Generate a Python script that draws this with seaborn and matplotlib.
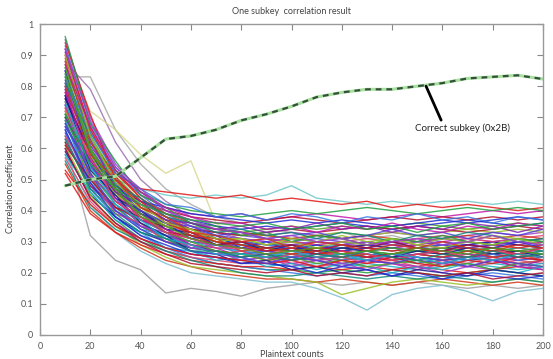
import matplotlib
matplotlib.use("Agg")
import matplotlib.pyplot as plt
import pandas as pd
import seaborn as sns

# plaintext counts on the x axis
x_counts = [10, 20, 30, 40, 50, 60, 70, 80, 90, 100,
            110, 120, 130, 140, 150, 160, 170, 180, 190, 200]

# correlation of the correct subkey (0x2B)
correct_key = [0.48, 0.50, 0.51, 0.57, 0.63, 0.64, 0.66, 0.69, 0.71, 0.735,
               0.765, 0.78, 0.79, 0.79, 0.80, 0.81, 0.825, 0.83, 0.835, 0.823]

# correlation of a sample of the wrong subkey guesses
wrong_keys = [
    [0.83, 0.83, 0.66, 0.55, 0.47, 0.42, 0.38, 0.36, 0.34, 0.33, 0.32, 0.33, 0.31, 0.32, 0.30, 0.31, 0.30, 0.29, 0.30, 0.29],
    [0.88, 0.79, 0.62, 0.50, 0.43, 0.38, 0.35, 0.33, 0.31, 0.30, 0.29, 0.30, 0.28, 0.29, 0.28, 0.27, 0.28, 0.27, 0.26, 0.27],
    [0.90, 0.72, 0.66, 0.58, 0.52, 0.56, 0.36, 0.30, 0.28, 0.27, 0.26, 0.27, 0.25, 0.26, 0.24, 0.25, 0.26, 0.24, 0.25, 0.24],
    [0.62, 0.32, 0.24, 0.21, 0.135, 0.15, 0.14, 0.125, 0.15, 0.16, 0.17, 0.16, 0.17, 0.16, 0.17, 0.16, 0.15, 0.16, 0.15, 0.16],
    [0.70, 0.55, 0.50, 0.47, 0.45, 0.44, 0.45, 0.44, 0.45, 0.48, 0.44, 0.43, 0.42, 0.43, 0.42, 0.43, 0.43, 0.42, 0.43, 0.42],
    [0.58, 0.42, 0.33, 0.27, 0.23, 0.20, 0.19, 0.18, 0.17, 0.17, 0.15, 0.12, 0.08, 0.13, 0.15, 0.16, 0.14, 0.11, 0.14, 0.15],
    [0.78, 0.62, 0.52, 0.47, 0.46, 0.45, 0.44, 0.45, 0.43, 0.44, 0.43, 0.42, 0.43, 0.41, 0.42, 0.41, 0.42, 0.41, 0.40, 0.41],
    [0.92, 0.66, 0.52, 0.45, 0.41, 0.39, 0.38, 0.39, 0.37, 0.38, 0.39, 0.38, 0.37, 0.38, 0.39, 0.38, 0.39, 0.40, 0.39, 0.40],
    [0.85, 0.60, 0.48, 0.41, 0.37, 0.34, 0.33, 0.32, 0.31, 0.30, 0.31, 0.30, 0.29, 0.30, 0.31, 0.30, 0.29, 0.30, 0.31, 0.30],
    [0.75, 0.55, 0.45, 0.38, 0.34, 0.31, 0.29, 0.28, 0.27, 0.26, 0.27, 0.26, 0.25, 0.26, 0.27, 0.26, 0.25, 0.26, 0.25, 0.26],
    [0.68, 0.50, 0.40, 0.34, 0.30, 0.27, 0.25, 0.24, 0.23, 0.22, 0.23, 0.22, 0.23, 0.22, 0.21, 0.22, 0.23, 0.22, 0.21, 0.22],
    [0.80, 0.58, 0.47, 0.40, 0.36, 0.33, 0.31, 0.30, 0.29, 0.29, 0.28, 0.29, 0.28, 0.27, 0.28, 0.29, 0.28, 0.27, 0.28, 0.27],
    [0.95, 0.70, 0.55, 0.46, 0.40, 0.36, 0.34, 0.33, 0.32, 0.33, 0.32, 0.31, 0.32, 0.33, 0.32, 0.31, 0.32, 0.33, 0.32, 0.33],
    [0.64, 0.46, 0.37, 0.31, 0.27, 0.25, 0.23, 0.22, 0.21, 0.21, 0.20, 0.21, 0.20, 0.21, 0.20, 0.19, 0.20, 0.21, 0.20, 0.19],
    [0.72, 0.52, 0.43, 0.37, 0.33, 0.31, 0.29, 0.28, 0.28, 0.27, 0.28, 0.28, 0.27, 0.28, 0.29, 0.28, 0.27, 0.28, 0.29, 0.28],
    [0.87, 0.64, 0.51, 0.43, 0.38, 0.35, 0.34, 0.33, 0.34, 0.35, 0.34, 0.35, 0.34, 0.35, 0.36, 0.35, 0.34, 0.35, 0.36, 0.35],
    [0.60, 0.44, 0.36, 0.31, 0.28, 0.26, 0.25, 0.24, 0.25, 0.24, 0.25, 0.24, 0.25, 0.26, 0.25, 0.24, 0.25, 0.24, 0.25, 0.26],
    [0.77, 0.57, 0.46, 0.39, 0.35, 0.32, 0.30, 0.29, 0.28, 0.27, 0.26, 0.27, 0.26, 0.25, 0.26, 0.25, 0.24, 0.25, 0.26, 0.25],
    [0.66, 0.47, 0.38, 0.32, 0.28, 0.25, 0.23, 0.22, 0.21, 0.20, 0.19, 0.20, 0.19, 0.20, 0.19, 0.18, 0.19, 0.20, 0.19, 0.18],
    [0.82, 0.61, 0.50, 0.43, 0.39, 0.37, 0.35, 0.34, 0.35, 0.34, 0.35, 0.36, 0.35, 0.34, 0.35, 0.36, 0.37, 0.36, 0.35, 0.36],
    [0.70, 0.53, 0.44, 0.39, 0.36, 0.34, 0.33, 0.32, 0.32, 0.31, 0.32, 0.33, 0.32, 0.33, 0.32, 0.33, 0.34, 0.33, 0.34, 0.33],
    [0.57, 0.43, 0.35, 0.30, 0.27, 0.25, 0.24, 0.23, 0.24, 0.23, 0.22, 0.23, 0.24, 0.23, 0.22, 0.23, 0.22, 0.23, 0.24, 0.23],
    [0.90, 0.67, 0.53, 0.44, 0.38, 0.34, 0.31, 0.29, 0.28, 0.27, 0.28, 0.27, 0.28, 0.27, 0.28, 0.27, 0.28, 0.29, 0.28, 0.29],
    [0.74, 0.56, 0.46, 0.40, 0.36, 0.33, 0.31, 0.30, 0.29, 0.30, 0.29, 0.28, 0.29, 0.30, 0.29, 0.30, 0.31, 0.30, 0.29, 0.30],
    [0.79, 0.60, 0.49, 0.42, 0.37, 0.34, 0.32, 0.31, 0.30, 0.31, 0.30, 0.29, 0.30, 0.29, 0.28, 0.29, 0.30, 0.29, 0.30, 0.31],
    [0.55, 0.40, 0.33, 0.28, 0.24, 0.22, 0.20, 0.19, 0.18, 0.18, 0.17, 0.18, 0.17, 0.16, 0.17, 0.18, 0.17, 0.16, 0.17, 0.16],
    [0.84, 0.62, 0.50, 0.42, 0.37, 0.33, 0.31, 0.29, 0.28, 0.28, 0.27, 0.26, 0.27, 0.26, 0.27, 0.28, 0.27, 0.26, 0.27, 0.26],
    [0.71, 0.51, 0.41, 0.35, 0.31, 0.29, 0.27, 0.26, 0.26, 0.25, 0.26, 0.25, 0.26, 0.25, 0.26, 0.27, 0.26, 0.25, 0.26, 0.27],
    [0.63, 0.48, 0.40, 0.35, 0.32, 0.30, 0.29, 0.28, 0.27, 0.28, 0.27, 0.28, 0.27, 0.28, 0.29, 0.28, 0.29, 0.28, 0.27, 0.28],
    [0.86, 0.65, 0.53, 0.46, 0.42, 0.40, 0.39, 0.38, 0.39, 0.40, 0.39, 0.40, 0.41, 0.40, 0.39, 0.40, 0.41, 0.40, 0.41, 0.40],
    [0.76, 0.58, 0.48, 0.43, 0.40, 0.38, 0.37, 0.36, 0.37, 0.38, 0.37, 0.36, 0.37, 0.38, 0.37, 0.38, 0.37, 0.38, 0.37, 0.38],
    [0.69, 0.50, 0.41, 0.35, 0.31, 0.28, 0.27, 0.26, 0.25, 0.24, 0.25, 0.24, 0.25, 0.24, 0.23, 0.24, 0.25, 0.24, 0.23, 0.24],
    [0.81, 0.59, 0.47, 0.40, 0.35, 0.32, 0.30, 0.28, 0.27, 0.26, 0.25, 0.26, 0.25, 0.24, 0.25, 0.24, 0.25, 0.26, 0.25, 0.24],
    [0.59, 0.45, 0.38, 0.33, 0.30, 0.28, 0.27, 0.26, 0.27, 0.28, 0.27, 0.28, 0.29, 0.28, 0.27, 0.28, 0.29, 0.30, 0.29, 0.28],
    [0.93, 0.68, 0.54, 0.45, 0.39, 0.35, 0.32, 0.30, 0.29, 0.28, 0.29, 0.28, 0.27, 0.28, 0.27, 0.26, 0.27, 0.28, 0.27, 0.26],
    [0.67, 0.54, 0.47, 0.43, 0.41, 0.39, 0.38, 0.37, 0.36, 0.37, 0.36, 0.37, 0.36, 0.35, 0.36, 0.37, 0.36, 0.37, 0.38, 0.37],
    [0.61, 0.45, 0.35, 0.29, 0.25, 0.22, 0.21, 0.20, 0.19, 0.18, 0.17, 0.13, 0.15, 0.17, 0.18, 0.17, 0.16, 0.17, 0.18, 0.17],
    [0.73, 0.55, 0.45, 0.39, 0.35, 0.33, 0.31, 0.30, 0.31, 0.30, 0.29, 0.30, 0.31, 0.30, 0.31, 0.32, 0.31, 0.30, 0.31, 0.32],
    [0.52, 0.39, 0.33, 0.29, 0.26, 0.24, 0.23, 0.22, 0.22, 0.21, 0.22, 0.21, 0.22, 0.21, 0.22, 0.21, 0.20, 0.21, 0.22, 0.21],
    [0.78, 0.57, 0.46, 0.39, 0.34, 0.31, 0.29, 0.27, 0.26, 0.25, 0.26, 0.25, 0.24, 0.25, 0.26, 0.25, 0.26, 0.25, 0.24, 0.25],
    [0.65, 0.49, 0.40, 0.35, 0.32, 0.30, 0.29, 0.29, 0.28, 0.29, 0.30, 0.29, 0.30, 0.29, 0.30, 0.29, 0.28, 0.29, 0.30, 0.29],
    [0.89, 0.66, 0.52, 0.44, 0.39, 0.36, 0.34, 0.33, 0.32, 0.31, 0.32, 0.31, 0.32, 0.31, 0.30, 0.31, 0.32, 0.31, 0.32, 0.31],
    [0.74, 0.54, 0.44, 0.37, 0.33, 0.30, 0.28, 0.27, 0.26, 0.25, 0.24, 0.25, 0.24, 0.23, 0.24, 0.23, 0.24, 0.23, 0.22, 0.23],
    [0.56, 0.41, 0.34, 0.30, 0.27, 0.24, 0.22, 0.20, 0.19, 0.19, 0.20, 0.19, 0.18, 0.19, 0.18, 0.19, 0.18, 0.17, 0.18, 0.17],
    [0.80, 0.61, 0.50, 0.43, 0.38, 0.35, 0.33, 0.31, 0.30, 0.29, 0.30, 0.29, 0.30, 0.29, 0.30, 0.31, 0.30, 0.29, 0.30, 0.29],
    [0.70, 0.52, 0.42, 0.36, 0.32, 0.29, 0.27, 0.26, 0.25, 0.26, 0.25, 0.26, 0.27, 0.26, 0.27, 0.26, 0.27, 0.26, 0.27, 0.26],
    [0.62, 0.48, 0.41, 0.37, 0.35, 0.34, 0.33, 0.32, 0.33, 0.34, 0.33, 0.34, 0.35, 0.34, 0.35, 0.34, 0.33, 0.34, 0.35, 0.34],
    [0.83, 0.60, 0.48, 0.40, 0.35, 0.32, 0.30, 0.29, 0.28, 0.27, 0.27, 0.28, 0.27, 0.28, 0.27, 0.28, 0.27, 0.28, 0.27, 0.28],
    [0.91, 0.63, 0.47, 0.38, 0.33, 0.29, 0.27, 0.25, 0.26, 0.24, 0.25, 0.23, 0.24, 0.26, 0.24, 0.23, 0.25, 0.24, 0.22, 0.24],
    [0.76, 0.59, 0.44, 0.40, 0.34, 0.33, 0.29, 0.30, 0.27, 0.29, 0.26, 0.28, 0.27, 0.25, 0.27, 0.26, 0.28, 0.26, 0.27, 0.25],
    [0.69, 0.47, 0.42, 0.34, 0.32, 0.28, 0.29, 0.26, 0.27, 0.25, 0.27, 0.24, 0.26, 0.25, 0.23, 0.25, 0.24, 0.26, 0.24, 0.25],
    [0.85, 0.57, 0.49, 0.39, 0.36, 0.31, 0.32, 0.28, 0.30, 0.27, 0.29, 0.27, 0.28, 0.30, 0.28, 0.27, 0.29, 0.28, 0.30, 0.28],
    [0.72, 0.58, 0.45, 0.41, 0.35, 0.34, 0.30, 0.31, 0.29, 0.31, 0.30, 0.32, 0.30, 0.31, 0.29, 0.31, 0.30, 0.32, 0.31, 0.30],
    [0.64, 0.51, 0.39, 0.36, 0.30, 0.29, 0.26, 0.27, 0.24, 0.26, 0.24, 0.25, 0.23, 0.24, 0.22, 0.24, 0.23, 0.25, 0.23, 0.24],
    [0.94, 0.71, 0.50, 0.43, 0.36, 0.33, 0.30, 0.29, 0.27, 0.28, 0.26, 0.27, 0.25, 0.26, 0.28, 0.26, 0.25, 0.27, 0.26, 0.25],
    [0.79, 0.54, 0.47, 0.37, 0.34, 0.29, 0.28, 0.25, 0.26, 0.23, 0.24, 0.22, 0.24, 0.23, 0.21, 0.23, 0.22, 0.24, 0.22, 0.21],
    [0.67, 0.55, 0.43, 0.40, 0.36, 0.35, 0.32, 0.33, 0.31, 0.32, 0.33, 0.31, 0.32, 0.34, 0.32, 0.33, 0.31, 0.33, 0.32, 0.34],
    [0.88, 0.62, 0.51, 0.41, 0.37, 0.32, 0.31, 0.27, 0.28, 0.26, 0.27, 0.25, 0.26, 0.24, 0.26, 0.25, 0.27, 0.25, 0.26, 0.24],
    [0.58, 0.46, 0.37, 0.33, 0.28, 0.27, 0.24, 0.25, 0.22, 0.23, 0.21, 0.23, 0.22, 0.20, 0.22, 0.21, 0.23, 0.21, 0.20, 0.22],
    [0.81, 0.64, 0.48, 0.44, 0.38, 0.36, 0.33, 0.34, 0.32, 0.33, 0.31, 0.33, 0.32, 0.30, 0.32, 0.31, 0.33, 0.32, 0.30, 0.31],
    [0.74, 0.51, 0.44, 0.35, 0.33, 0.28, 0.27, 0.24, 0.25, 0.22, 0.24, 0.23, 0.21, 0.23, 0.22, 0.20, 0.22, 0.21, 0.23, 0.21],
    [0.96, 0.68, 0.56, 0.45, 0.41, 0.36, 0.35, 0.32, 0.33, 0.30, 0.32, 0.31, 0.29, 0.31, 0.30, 0.32, 0.30, 0.29, 0.31, 0.30],
    [0.61, 0.50, 0.41, 0.38, 0.33, 0.32, 0.29, 0.30, 0.28, 0.29, 0.27, 0.29, 0.28, 0.30, 0.28, 0.27, 0.29, 0.28, 0.26, 0.28],
    [0.86, 0.60, 0.46, 0.39, 0.33, 0.30, 0.27, 0.26, 0.24, 0.25, 0.23, 0.24, 0.22, 0.23, 0.24, 0.22, 0.23, 0.21, 0.23, 0.22],
    [0.70, 0.56, 0.46, 0.42, 0.37, 0.36, 0.34, 0.35, 0.33, 0.34, 0.36, 0.34, 0.35, 0.33, 0.35, 0.34, 0.36, 0.35, 0.33, 0.35],
    [0.77, 0.53, 0.45, 0.36, 0.32, 0.27, 0.26, 0.23, 0.24, 0.21, 0.22, 0.20, 0.21, 0.19, 0.21, 0.20, 0.19, 0.21, 0.20, 0.19],
    [0.83, 0.65, 0.52, 0.47, 0.42, 0.41, 0.38, 0.39, 0.37, 0.39, 0.38, 0.36, 0.38, 0.37, 0.39, 0.37, 0.38, 0.36, 0.38, 0.37],
    [0.66, 0.49, 0.38, 0.32, 0.29, 0.26, 0.25, 0.23, 0.23, 0.22, 0.20, 0.22, 0.21, 0.19, 0.20, 0.18, 0.20, 0.19, 0.18, 0.19],
    [0.90, 0.64, 0.49, 0.42, 0.36, 0.34, 0.31, 0.31, 0.29, 0.30, 0.28, 0.30, 0.29, 0.31, 0.29, 0.28, 0.30, 0.29, 0.31, 0.29],
    [0.73, 0.57, 0.43, 0.38, 0.33, 0.31, 0.28, 0.28, 0.26, 0.27, 0.25, 0.27, 0.26, 0.24, 0.26, 0.27, 0.25, 0.27, 0.26, 0.28],
    [0.53, 0.42, 0.35, 0.31, 0.28, 0.26, 0.25, 0.24, 0.23, 0.24, 0.22, 0.24, 0.23, 0.25, 0.23, 0.22, 0.24, 0.23, 0.25, 0.24],
    [0.87, 0.67, 0.53, 0.46, 0.41, 0.38, 0.36, 0.36, 0.34, 0.35, 0.33, 0.35, 0.34, 0.36, 0.34, 0.33, 0.35, 0.34, 0.36, 0.35],
    [0.68, 0.52, 0.40, 0.34, 0.30, 0.27, 0.26, 0.25, 0.23, 0.25, 0.24, 0.22, 0.24, 0.23, 0.25, 0.24, 0.22, 0.24, 0.23, 0.22],
    [0.80, 0.58, 0.50, 0.41, 0.38, 0.33, 0.32, 0.30, 0.31, 0.28, 0.30, 0.29, 0.27, 0.29, 0.28, 0.30, 0.28, 0.27, 0.29, 0.28],
    [0.75, 0.54, 0.42, 0.37, 0.31, 0.29, 0.26, 0.26, 0.25, 0.27, 0.25, 0.26, 0.24, 0.26, 0.25, 0.23, 0.25, 0.24, 0.26, 0.25],
    [0.63, 0.47, 0.39, 0.33, 0.31, 0.27, 0.27, 0.25, 0.26, 0.24, 0.26, 0.25, 0.27, 0.25, 0.24, 0.26, 0.25, 0.27, 0.25, 0.26],
    [0.92, 0.69, 0.54, 0.47, 0.40, 0.37, 0.34, 0.33, 0.31, 0.32, 0.30, 0.31, 0.29, 0.30, 0.31, 0.29, 0.30, 0.32, 0.30, 0.29],
    [0.71, 0.55, 0.47, 0.42, 0.39, 0.37, 0.36, 0.35, 0.36, 0.34, 0.35, 0.36, 0.34, 0.35, 0.33, 0.35, 0.36, 0.34, 0.35, 0.36],
    [0.60, 0.44, 0.36, 0.30, 0.26, 0.23, 0.22, 0.21, 0.20, 0.21, 0.19, 0.20, 0.19, 0.21, 0.20, 0.19, 0.20, 0.18, 0.19, 0.20],
    [0.84, 0.59, 0.47, 0.38, 0.35, 0.31, 0.29, 0.28, 0.26, 0.27, 0.28, 0.26, 0.27, 0.26, 0.28, 0.27, 0.26, 0.28, 0.27, 0.26],
]

# the few pale outlier lines, then a cycle of saturated colours for the rest
outlier_colors = ['#a8a8a8', '#9a70b0', '#d8d890', '#a0a0a0', '#70c8c8', '#80c0d0']
band_colors = ['#e01818', '#2030d0', '#8020b0', '#20a040', '#18b0c8', '#c018a8',
               '#98c028', '#1a1a90', '#b01030', '#108878', '#5040d8', '#e04070',
               '#3878e0', '#50a020', '#a040c8', '#d03818']
wrong_colors = outlier_colors + [band_colors[(i * 5) % len(band_colors)]
                                 for i in range(len(wrong_keys) - len(outlier_colors))]

rows = []
for i, ys in enumerate(wrong_keys):
    for x, y in zip(x_counts, ys):
        rows.append({'count': x, 'corr': y, 'key': f'k{i}'})
df_wrong = pd.DataFrame(rows)
df_correct = pd.DataFrame({'count': x_counts, 'corr': correct_key})

sns.set_theme(style='white')
plt.rcParams['font.family'] = ['Lato', 'DejaVu Sans']

fig = plt.figure(figsize=(5.53, 3.59), dpi=100)
ax = fig.add_axes([40 / 553, 1 - 335 / 359, 503 / 553, 311 / 359])

sns.lineplot(data=df_wrong, x='count', y='corr', hue='key',
             palette=wrong_colors, legend=False, linewidth=1.0, alpha=0.85, ax=ax)

# correct subkey: dark dashes on a light green line
sns.lineplot(data=df_correct, x='count', y='corr', color='#a8e0a0',
             linewidth=2.2, ax=ax)
sns.lineplot(data=df_correct, x='count', y='corr', color='#34503a',
             linewidth=1.6, ax=ax)
ax.lines[-1].set_dashes([2.6, 2.2])

ax.annotate('Correct subkey (0x2B)', xy=(153.5, 0.80), xytext=(168, 0.665),
            ha='center', va='center', fontsize=7, color='#222222',
            arrowprops=dict(arrowstyle='-', color='black', lw=2,
                            relpos=(0.29, 1.0), shrinkA=0, shrinkB=0))

ax.set_xlim(0, 200)
ax.set_ylim(0, 1)
ax.set_xticks(range(0, 201, 20))
ax.set_yticks([i / 10 for i in range(11)])
ax.set_yticklabels(['0', '0.1', '0.2', '0.3', '0.4', '0.5', '0.6', '0.7', '0.8', '0.9', '1'])
ax.tick_params(direction='in', length=4, width=0.8, color='#888888',
               labelsize=6.5, labelcolor='#555555', top=True, right=True,
               bottom=True, left=True, pad=5)
ax.tick_params(axis='x', labeltop=False)
ax.tick_params(axis='y', labelright=False)
for side in ax.spines.values():
    side.set_color('#999999')
    side.set_linewidth(1.0)

ax.set_title('One subkey  correlation result', fontsize=6.5, color='#444444', pad=7)
ax.set_xlabel('Plaintext counts', fontsize=6.5, color='#444444')
ax.xaxis.set_label_coords(0.5, -0.048)
ax.set_ylabel('Correlation coefficient', fontsize=6.5, color='#444444')
ax.yaxis.set_label_coords(-0.05, 0.47)

fig.savefig('out.png', dpi=100)
